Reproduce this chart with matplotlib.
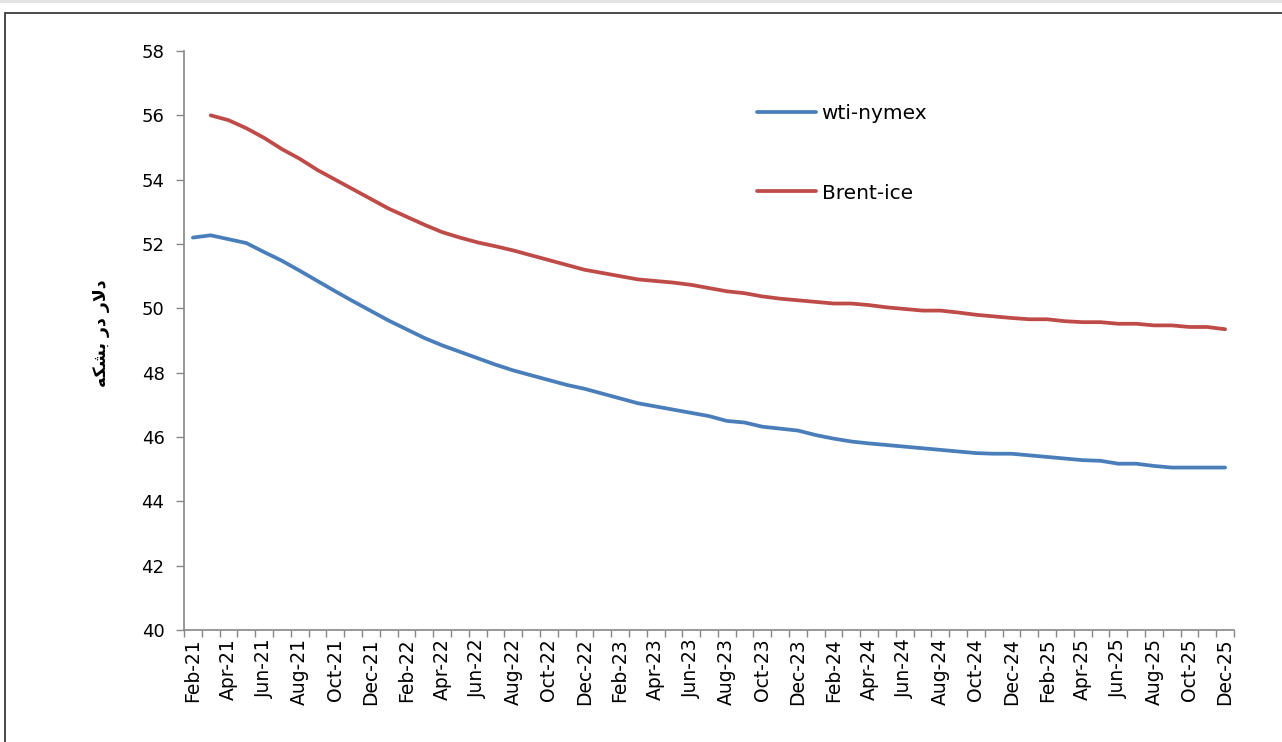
import numpy as np
import pandas as pd
import matplotlib
matplotlib.use('Agg')
import matplotlib.pyplot as plt
from matplotlib.patches import Rectangle

# monthly futures curve, Feb-21 .. Dec-25
months = pd.date_range('2021-02-01', '2025-12-01', freq='MS')
month_labels = [m.strftime('%b-%y') for m in months]

wti_nymex = [52.20, 52.27, 52.15, 52.03, 51.75, 51.48, 51.17, 50.85, 50.53, 50.22,
             49.92, 49.62, 49.35, 49.08, 48.85, 48.65, 48.45, 48.25, 48.07, 47.92,
             47.77, 47.62, 47.50, 47.35, 47.20, 47.05, 46.95, 46.85, 46.75, 46.65,
             46.50, 46.45, 46.32, 46.26, 46.20, 46.06, 45.95, 45.86, 45.80, 45.75,
             45.70, 45.65, 45.60, 45.55, 45.50, 45.48, 45.48, 45.43, 45.38, 45.33,
             45.28, 45.26, 45.17, 45.17, 45.10, 45.05, 45.05, 45.05, 45.05]

brent_ice = [np.nan, 56.00, 55.85, 55.60, 55.30, 54.95, 54.65, 54.30, 54.00, 53.70,
             53.40, 53.10, 52.85, 52.60, 52.37, 52.20, 52.05, 51.93, 51.80, 51.65,
             51.50, 51.35, 51.20, 51.10, 51.00, 50.90, 50.85, 50.80, 50.73, 50.63,
             50.53, 50.47, 50.37, 50.30, 50.25, 50.20, 50.15, 50.15, 50.10, 50.03,
             49.98, 49.93, 49.93, 49.87, 49.80, 49.75, 49.70, 49.66, 49.66, 49.60,
             49.57, 49.57, 49.52, 49.52, 49.47, 49.47, 49.42, 49.42, 49.35]

# "دلار در بشکه" written with presentation forms so it reads correctly without shaping
ylabel_text = '\uFEEA\uFB91\uFEB8\uFE91 \uFEAD\uFEA9 \uFEAD\uFEFB\uFEA9'

W, H = 1282, 742
fig = plt.figure(figsize=(W / 100, H / 100), dpi=100)
fig.patch.set_facecolor('white')

# gray strip on top and the chart-area frame
fig.add_artist(Rectangle((0, 1 - 3 / H), 1, 3 / H, transform=fig.transFigure,
                         facecolor='#e4e4e4', edgecolor='none'))
fig.add_artist(Rectangle((5 / W, -0.1), 1.1, 1.1 - 13 / H, transform=fig.transFigure,
                         facecolor='none', edgecolor='#3a3a3a', linewidth=1.3))

ax = fig.add_axes([184 / W, 1 - 630 / H, (1234 - 184) / W, (630 - 51) / H])

x = np.arange(len(months)) + 0.5
ax.plot(x, wti_nymex, color='#4a7ebb', linewidth=2.7, label='wti-nymex',
        solid_capstyle='round')
ax.plot(x, brent_ice, color='#be4b48', linewidth=2.7, label='Brent-ice',
        solid_capstyle='round')

ax.set_xlim(0, len(months))
ax.set_ylim(40, 58)
ax.set_yticks(np.arange(40, 59, 2))

# tick marks between categories, labels on every other month
ax.set_xticks(np.arange(0, len(months) + 1))
ax.set_xticklabels([])
ax.set_xticks(x[::2], minor=True)
ax.set_xticklabels(month_labels[::2], minor=True, rotation=90, fontsize=13.5)
ax.tick_params(axis='x', which='major', length=5, width=1, color='#868686', direction='out')
ax.tick_params(axis='x', which='minor', length=0, pad=6)
ax.tick_params(axis='y', length=6, width=1, color='#868686', labelsize=13, pad=8)

for side in ['top', 'right']:
    ax.spines[side].set_visible(False)
for side in ['left', 'bottom']:
    ax.spines[side].set_color('#868686')
    ax.spines[side].set_linewidth(1.2)

ax.set_ylabel(ylabel_text, fontsize=12.5, fontweight='bold')
ax.yaxis.set_label_coords(-0.07, 0.513)

leg = ax.legend(loc='upper left', bbox_to_anchor=((739 - 184) / 1050, 1 - (86 - 51) / 579),
                frameon=False, fontsize=14.5, handlelength=2.9, handletextpad=0.3,
                labelspacing=3.0)

fig.savefig('out.png', dpi=100)
